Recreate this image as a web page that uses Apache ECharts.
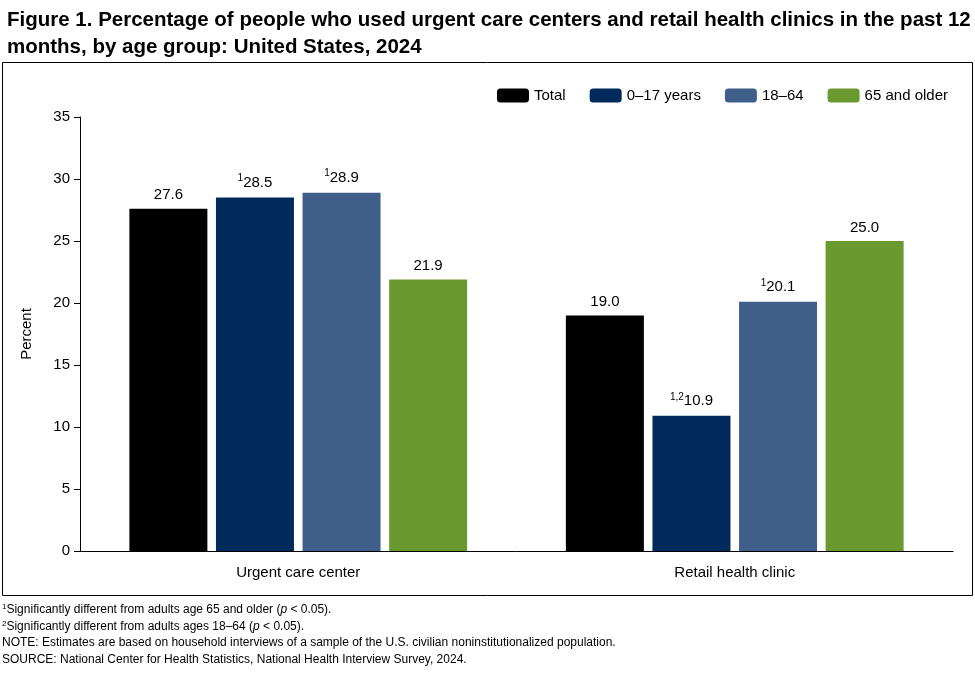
<!DOCTYPE html>
<html>
<head>
<meta charset="utf-8">
<script src="https://cdn.jsdelivr.net/npm/echarts@6/dist/echarts.min.js"></script>
<style>
body{margin:0;background:#fff;}
#container{width:975px;height:675px;}
</style>
</head>
<body>
<div id="container"></div>
<script>
var categories = ['Urgent care center', 'Retail health clinic'];
var seriesNames = ['Total', '0\u201317 years', '18\u201364', '65 and older'];
var seriesColors = ['#000000', '#002a5c', '#3f5f8a', '#6a9a2f'];
var values = [
    [27.6, 19.0],
    [28.5, 10.9],
    [28.9, 20.1],
    [21.9, 25.0]
];
// superscript notes on each bar label
var notes = [
    ['', ''],
    ['1', '1,2'],
    ['1', '1'],
    ['', '']
];
var yTicks = [0, 5, 10, 15, 20, 25, 30, 35];

var font = '"Liberation Sans", Arial, sans-serif';
var dom = document.getElementById('container');
var myChart = echarts.init(dom);

var series = [];
for (var i = 0; i < seriesNames.length; i++) {
    (function (i) {
        series.push({
            name: seriesNames[i],
            type: 'bar',
            data: values[i],
            barWidth: 78,
            barGap: '11%',
            itemStyle: {color: seriesColors[i]},
            label: {
                show: true,
                position: 'top',
                distance: 6,
                formatter: function (p) {
                    var n = notes[i][p.dataIndex];
                    return (n ? '{sup|' + n + '}' : '') + p.value.toFixed(1);
                },
                color: '#000',
                fontSize: 15,
                fontFamily: font,
                rich: {sup: {fontSize: 10, verticalAlign: 'top', padding: [0, 0, 8, 0], fontFamily: font, color: '#000'}}
            }
        });
    })(i);
}

var footStyle = {fontSize: 12, fontFamily: font, fill: '#000', rich: {
    s: {fontSize: 8, verticalAlign: 'top', padding: [0, 0, 5, 0], fontFamily: font},
    i: {fontSize: 12, fontStyle: 'italic', fontFamily: font}
}};
function foot(y, text) {
    return {type: 'text', left: 2, top: y, style: Object.assign({text: text}, footStyle)};
}

var option = {
    animation: false,
    title: {
        text: 'Figure 1. Percentage of people who used urgent care centers and retail health clinics in the past 12\nmonths, by age group: United States, 2024',
        left: 2, top: 2,
        textStyle: {fontSize: 20.5, fontWeight: 'bold', fontFamily: font, color: '#000', lineHeight: 27}
    },
    legend: {
        data: seriesNames,
        right: 22, top: 83,
        itemWidth: 32, itemHeight: 14, itemGap: 24,
        textStyle: {fontSize: 15, fontFamily: font, color: '#000'}
    },
    grid: {left: 80, right: 22, top: 117, bottom: 124},
    xAxis: {
        type: 'category',
        data: categories,
        axisLine: {lineStyle: {color: '#000'}},
        axisTick: {show: false},
        axisLabel: {color: '#000', fontSize: 15, fontFamily: font, margin: 14}
    },
    yAxis: {
        type: 'value',
        min: 0, max: 35, interval: 5,
        name: 'Percent',
        nameLocation: 'middle',
        nameGap: 46,
        nameTextStyle: {fontSize: 15, fontFamily: font, color: '#000'},
        axisLine: {show: true, lineStyle: {color: '#000'}},
        axisTick: {show: true, length: 6, lineStyle: {color: '#000'}},
        splitLine: {show: false},
        axisLabel: {color: '#000', fontSize: 15, fontFamily: font, margin: 10,
            formatter: function (v) { return yTicks.indexOf(v) >= 0 ? v : ''; }}
    },
    graphic: [
        {type: 'rect', shape: {x: 2.5, y: 62.5, width: 970, height: 533}, style: {fill: 'none', stroke: '#000', lineWidth: 1}},
        foot(603, '{s|1}Significantly different from adults age 65 and older ({i|p} < 0.05).'),
        foot(620, '{s|2}Significantly different from adults ages 18\u201364 ({i|p} < 0.05).'),
        foot(637, 'NOTE: Estimates are based on household interviews of a sample of the U.S. civilian noninstitutionalized population.'),
        foot(654, 'SOURCE: National Center for Health Statistics, National Health Interview Survey, 2024.')
    ],
    series: series
};
myChart.setOption(option, true);
</script>
</body>
</html>
